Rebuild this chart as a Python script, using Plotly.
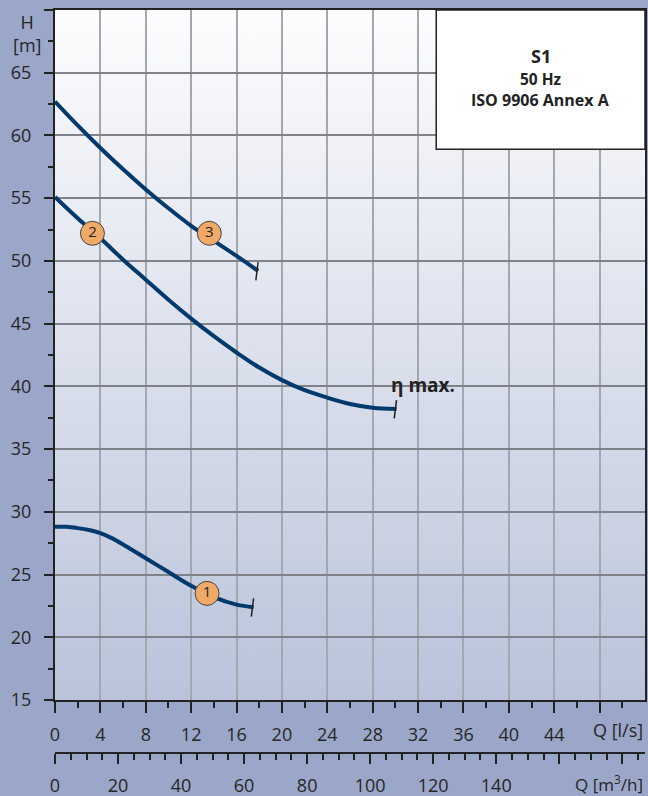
import base64
import plotly.graph_objects as go

# ---------------- data ----------------
Q1 = [0, 1, 2, 3, 4, 5, 6, 8, 10, 12, 14, 16, 17.5]
H1 = [28.8, 28.8, 28.7, 28.55, 28.3, 27.9, 27.4, 26.3, 25.2, 24.1, 23.2, 22.6, 22.4]

Q2 = [0, 2, 4, 6, 8, 10, 12, 14, 16, 18, 20, 22, 24, 26, 28, 30.1]
H2 = [55.1, 53.4, 51.8, 50.1, 48.5, 46.9, 45.4, 44.0, 42.7, 41.5, 40.5, 39.7, 39.1, 38.6, 38.3, 38.2]

Q3 = [0, 2, 4, 6, 8, 10, 12, 14, 16, 17.9]
H3 = [62.7, 60.8, 59.0, 57.3, 55.7, 54.2, 52.8, 51.6, 50.4, 49.2]

label_names = ["1", "2", "3"]
label_Q = [13.4, 3.3, 13.6]
label_H = [23.5, 52.2, 52.2]

x_ticks_ls = [0, 4, 8, 12, 16, 20, 24, 28, 32, 36, 40, 44, 48]
x_ticktext_ls = ["0", "4", "8", "12", "16", "20", "24", "28", "32", "36", "40", "44", " "]
x_ticks_m3h = [0, 20, 40, 60, 80, 100, 120, 140, 160, 180]
x_ticktext_m3h = ["0", "20", "40", "60", "80", "100", "120", "140", " ", " "]
y_ticks = [15, 20, 25, 30, 35, 40, 45, 50, 55, 60, 65, 70]
y_ticktext = ["15", "20", "25", "30", "35", "40", "45", "50", "55", "60", "65", " "]

Q_MAX = 52
H_MIN, H_MAX = 15, 70
LS_TO_M3H = 3.6

box_lines = ["S1", "50 Hz", "ISO 9906 Annex A"]

# ---------------- style ----------------
FONT = "Open Sans"
TXT = "#262626"
CURVE = "#003a6c"
OUTER = "#9ba7c8"

curves = [(Q1, H1), (Q2, H2), (Q3, H3)]

fig = go.Figure()

for q, h in curves:
    fig.add_trace(go.Scatter(x=q, y=h, mode="lines", line=dict(color=CURVE, width=4, shape="spline", smoothing=1.0),
                             hoverinfo="skip", showlegend=False))
    # end tick
    fig.add_trace(go.Scatter(x=[q[-1] - 0.2, q[-1]], y=[h[-1] - 0.75, h[-1] + 0.7], mode="lines",
                             line=dict(color="#222", width=1.5), hoverinfo="skip", showlegend=False))

fig.add_trace(go.Scatter(x=label_Q, y=label_H, mode="markers+text", text=label_names,
                         textposition="middle center",
                         textfont=dict(family=FONT, size=15, color="#222"),
                         marker=dict(size=24, color="#f0aa68", line=dict(color="#444", width=1)),
                         hoverinfo="skip", showlegend=False))

# dummy trace to activate second x axis
fig.add_trace(go.Scatter(x=[0, Q_MAX * LS_TO_M3H], y=[H_MIN, H_MIN], xaxis="x2", yaxis="y", mode="markers",
                         marker=dict(opacity=0), hoverinfo="skip", showlegend=False))

# gradient background image (svg)
svg = ('<svg xmlns="http://www.w3.org/2000/svg" width="10" height="100" viewBox="0 0 10 100" preserveAspectRatio="none">'
       '<defs><linearGradient id="g" x1="0" y1="0" x2="0" y2="1">'
       '<stop offset="0" stop-color="#fdfdfe"/><stop offset="1" stop-color="#b9c3da"/>'
       '</linearGradient></defs><rect width="10" height="100" fill="url(#g)"/></svg>')
uri = "data:image/svg+xml;base64," + base64.b64encode(svg.encode()).decode()

ybot = 1 - 690 / 743

fig.update_layout(
    width=648, height=796, autosize=False,
    margin=dict(l=55, r=3, t=10, b=43, pad=0, autoexpand=False),
    paper_bgcolor=OUTER,
    plot_bgcolor="#e4e8f1",
    font=dict(family=FONT, size=18, color=TXT),
    images=[dict(source=uri, xref="x", yref="y", x=0, y=H_MAX, sizex=Q_MAX, sizey=H_MAX - H_MIN,
                 sizing="stretch", layer="below", xanchor="left", yanchor="top")],
    xaxis=dict(
        range=[0, Q_MAX], domain=[0, 1], anchor="y", automargin=False,
        tickmode="array", tickvals=x_ticks_ls, ticktext=x_ticktext_ls,
        ticks="outside", ticklen=11, tickwidth=2, tickcolor="#222",
        minor=dict(tickmode="array", tickvals=[v for v in range(2, 52, 4)], ticks="outside",
                   ticklen=6, tickwidth=2, tickcolor="#222", showgrid=False),
        showgrid=True, gridcolor="#a3a7b0", gridwidth=1.5,
        showline=True, linecolor="#222", linewidth=2, mirror=True,
        zeroline=False, ticklabelstandoff=6,
        tickfont=dict(family=FONT, size=18, color=TXT),
    ),
    xaxis2=dict(
        range=[0, Q_MAX * LS_TO_M3H], overlaying="x", anchor="free", position=0, side="bottom",
        automargin=False,
        tickmode="array", tickvals=x_ticks_m3h, ticktext=x_ticktext_m3h,
        ticks="outside", ticklen=10, tickwidth=2, tickcolor="#222",
        minor=dict(tickmode="array", tickvals=[v for v in range(5, 190, 5) if v % 20], ticks="outside",
                   ticklen=6, tickwidth=2, tickcolor="#222", showgrid=False),
        showgrid=False, showline=True, linecolor="#222", linewidth=2,
        zeroline=False, ticklabelstandoff=6,
        tickfont=dict(family=FONT, size=18, color=TXT),
    ),
    yaxis=dict(
        range=[H_MIN, H_MAX], domain=[ybot, 1], automargin=False,
        tickmode="array", tickvals=y_ticks, ticktext=y_ticktext,
        ticks="outside", ticklen=9, tickwidth=2, tickcolor="#222",
        minor=dict(tickmode="array", tickvals=[v + 2.5 for v in range(15, 70, 5)], ticks="outside",
                   ticklen=5, tickwidth=2, tickcolor="#222", showgrid=False),
        showgrid=True, gridcolor="#7f8288", gridwidth=1.5,
        showline=True, linecolor="#222", linewidth=2, mirror=True,
        zeroline=False, ticklabelstandoff=9,
        tickfont=dict(family=FONT, size=18, color=TXT),
    ),
    shapes=[dict(type="rect", xref="x", yref="y", x0=33.6, x1=Q_MAX, y0=58.9, y1=H_MAX,
                 fillcolor="white", line=dict(color="#222", width=1.5), layer="above")],
)

bx = (33.6 + Q_MAX) / 2
annotations = [
    dict(text="H<br>[m]", xref="paper", yref="paper", x=-0.047, y=0.969, showarrow=False,
         font=dict(family=FONT, size=18, color=TXT), xanchor="center", yanchor="middle", align="center"),
    dict(text="Q [l/s]", xref="paper", yref="paper", x=1.0, y=(753 - 730) / 743, showarrow=False,
         font=dict(family=FONT, size=18, color=TXT), xanchor="right", yanchor="middle"),
    dict(text="Q [m<sup>3</sup>/h]", xref="paper", yref="paper", x=1.0, y=(753 - 783) / 743, showarrow=False,
         font=dict(family=FONT, size=17, color=TXT), xanchor="right", yanchor="middle"),
    dict(text="<b>η max.</b>", xref="x", yref="y", x=Q2[-1] - 0.7, y=H2[-1] + 1.9, showarrow=False,
         font=dict(family=FONT, size=19, color="#222"), xanchor="left", yanchor="middle"),
    dict(text="<b>" + box_lines[0] + "</b>", xref="x", yref="y", x=bx, y=66.35, showarrow=False,
         font=dict(family=FONT, size=18, color="#222"), xanchor="center", yanchor="middle"),
    dict(text="<b>" + box_lines[1] + "</b>", xref="x", yref="y", x=bx, y=64.5, showarrow=False,
         font=dict(family=FONT, size=15.5, color="#222"), xanchor="center", yanchor="middle"),
    dict(text="<b>" + box_lines[2] + "</b>", xref="x", yref="y", x=bx, y=62.8, showarrow=False,
         font=dict(family=FONT, size=16, color="#222"), xanchor="center", yanchor="middle"),
]
fig.update_layout(annotations=annotations)

fig.write_html("out.html", config={"displayModeBar": False, "responsive": False})

# remove default page margin so the figure fills the 648x796 window exactly
with open("out.html", "r", encoding="utf-8") as f:
    html = f.read()
html = html.replace("<head>", "<head><style>html,body{margin:0;padding:0;overflow:hidden;background:%s;}</style>" % OUTER, 1)
with open("out.html", "w", encoding="utf-8") as f:
    f.write(html)
